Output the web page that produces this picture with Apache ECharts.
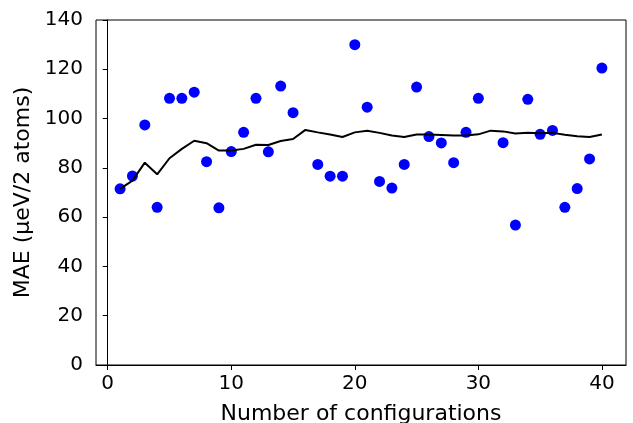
<!DOCTYPE html>
<html><head><meta charset="utf-8">
<script src="https://cdn.jsdelivr.net/npm/echarts@6/dist/echarts.min.js"></script>
<style>html,body{margin:0;padding:0;background:#fff}#c{width:633px;height:423px}</style>
</head><body><div id="c"></div>
<script>
const configs = [];
for (let i = 1; i <= 40; i++) configs.push(i);
const maeValues = [71.5,76.7,97.4,64.0,108.2,108.2,110.7,82.5,63.8,86.6,
  94.4,108.2,86.5,113.2,102.4,null,81.4,76.6,76.6,130.0,
  104.6,74.5,71.8,81.4,112.8,92.7,90.1,82.1,94.4,108.2,
  null,90.2,56.8,107.8,93.6,95.2,64.0,71.6,83.6,120.5];
const meanValues = [71.5,74.8,82.1,77.4,83.9,87.7,91.0,90.0,87.0,87.0,
  87.7,89.4,89.3,90.9,91.7,95.4,94.4,93.5,92.5,94.4,
  95.1,94.2,93.1,92.5,93.5,93.5,93.3,93.1,93.1,93.6,
  95.1,94.8,93.9,94.2,94.0,94.2,93.4,92.8,92.5,93.5];
const xTicks = [0,10,20,30,40];
const yTicks = [0,20,40,60,80,100,120,140];

const font = 'DejaVu Sans';
const chart = echarts.init(document.getElementById('c'), null, {renderer:'canvas'});
chart.setOption({
  animation:false,
  grid:{left:96,right:7,top:20,bottom:58,show:true,borderColor:'#000',borderWidth:1,
    backgroundColor:'transparent',containLabel:false,outerBoundsMode:'none'},
  xAxis:{type:'value',min:-0.95,max:41.95,
    name:'Number of configurations',nameLocation:'middle',nameGap:38,
    nameTextStyle:{fontFamily:font,fontSize:22,color:'#000'},
    axisLine:{show:true,lineStyle:{color:'#000',width:1}},
    axisTick:{show:true,length:5,lineStyle:{color:'#000'},customValues:xTicks},
    axisLabel:{fontFamily:font,fontSize:20,color:'#000',margin:9,customValues:xTicks},
    splitLine:{show:false}},
  yAxis:{type:'value',min:0,max:140,interval:20,
    name:'MAE (µeV/2 atoms)',nameLocation:'middle',nameGap:62,
    nameTextStyle:{fontFamily:font,fontSize:22,color:'#000'},
    axisLine:{show:true,lineStyle:{color:'#000',width:1}},
    axisTick:{show:true,length:5,lineStyle:{color:'#000'},customValues:yTicks},
    axisLabel:{fontFamily:font,fontSize:20,color:'#000',margin:13,customValues:yTicks},
    splitLine:{show:false}},
  series:[
    {type:'scatter',data:configs.map((x,i)=>[x,maeValues[i]]).filter(d=>d[1]!==null),
     symbol:'circle',symbolSize:11,itemStyle:{color:'#0000ff',opacity:1},z:2},
    {type:'line',data:configs.map((x,i)=>[x,meanValues[i]]),showSymbol:false,
     lineStyle:{color:'#000',width:2},z:3}
  ]
});
</script></body></html>
